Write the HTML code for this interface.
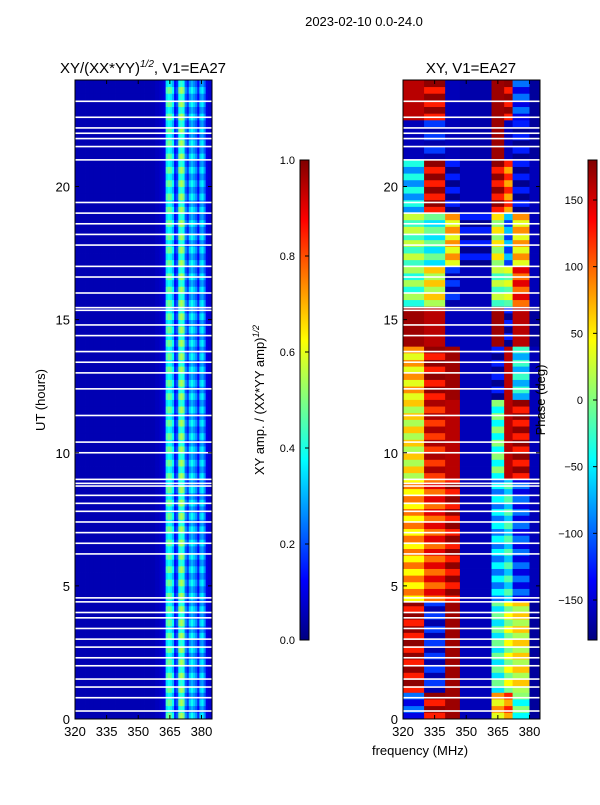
<!DOCTYPE html>
<html><head><meta charset="utf-8"><style>
body{margin:0;background:#fff;width:600px;height:800px;overflow:hidden}
svg{font-family:"Liberation Sans","DejaVu Sans",sans-serif}
</style></head><body>
<svg id="chart" width="600" height="800" xmlns="http://www.w3.org/2000/svg"></svg>
<script>
// ---- data ----
const freqTicks=[320,335,350,365,380];
const timeTicks=[0,5,10,15,20];
// amplitude per 1 MHz channel 320..384
const ampCols=[0.05,0.05,0.05,0.05,0.05,0.05,0.05,0.05,0.05,0.05,0.05,0.05,0.05,0.05,0.05,0.05,0.05,0.05,0.05,0.05,0.05,0.05,0.05,0.05,0.05,0.05,0.05,0.05,0.05,0.05,0.05,0.05,0.05,0.05,0.05,0.05,0.05,0.05,0.06,0.06,0.07,0.08,0.1,0.4,0.45,0.42,0.35,0.15,0.2,0.45,0.5,0.45,0.25,0.18,0.3,0.35,0.3,0.25,0.15,0.3,0.33,0.25,0.1,0.08,0.08];
const gapTimes=[0.3,0.8,1.2,1.5,2.0,2.3,2.7,3.0,3.4,3.8,4.0,4.4,4.55,6.2,6.6,7.0,7.4,7.8,8.1,8.4,8.75,8.85,9.0,10.0,10.4,11.4,12.4,13.0,13.4,13.8,14.4,14.8,15.35,15.45,16.0,16.6,17.0,17.8,18.2,18.6,19.0,19.4,21.0,21.5,21.8,22.0,22.2,22.6,23.2];
const phaseFreqEdges=[320,330,340,347,362,368,372,380,385];
const phaseTimeEdges=[0,1,4.4,9,12,14,15.5,17,19,21,22.5,24];
const phaseGrid=[
 [-120,150,170,-160,60,100,-20,-170],
 [150,-140,170,-160,-30,20,40,-170],
 [70,120,150,-160,-70,-40,-120,-160],
 [40,140,160,-160,-20,160,150,-160],
 [60,150,170,-160,-150,160,-50,-160],
 [170,160,-160,-160,170,-150,160,-170],
 [-10,40,-140,-160,0,10,120,-160],
 [0,-30,60,-150,30,-90,60,-160],
 [-60,150,-150,-160,150,100,-150,-160],
 [-160,-140,-160,-165,170,-160,-150,-170],
 [160,150,-160,-165,170,150,-120,-170]];
const ampTicks=[0.0,0.2,0.4,0.6,0.8,1.0];
const phaseTicks=[-150,-100,-50,0,50,100,150];
// ---- helpers ----
const NS="http://www.w3.org/2000/svg",svg=document.getElementById('chart');
function el(t,a,p){const e=document.createElementNS(NS,t);for(const k in a)e.setAttribute(k,a[k]);(p||svg).appendChild(e);return e;}
function jet(v){v=Math.max(0,Math.min(1,v));const c=x=>Math.round(255*Math.max(0,Math.min(1,1.5-Math.abs(4*v-x))));return `rgb(${c(3)},${c(2)},${c(1)})`;}
const X0=[75,403],W=137,YT=80,YB=719;
const fx=(i,f)=>X0[i]+(f-320)/65*W;
const ty=t=>YB-t*(YB-YT)/24;
function txt(x,y,s,o){const t=el('text',Object.assign({x,y,'font-size':13,fill:'#000'},o||{}));t.textContent=s;return t;}
// ---- amplitude heatmap ----
const g1=el('g',{});


const rowH=0.25;
for(let r=0;r<96;r++){const t=r*rowH;const mod=(r%2?0.85:1.1);
 for(let c=0;c<ampCols.length;c++){const rc=el('rect',{x:fx(0,320+c),y:ty(t+rowH),width:W/65+0.4,height:(YB-YT)/96+0.4,fill:jet(Math.min(1,ampCols[c]*(ampCols[c]>0.1?mod:1)))},g1);
  }}
// ---- phase heatmap ----
const g2=el('g',{});


for(let i=0;i<phaseTimeEdges.length-1;i++)for(let j=0;j<phaseFreqEdges.length-1;j++){
 const t0=phaseTimeEdges[i],t1=phaseTimeEdges[i+1];
 for(let t=t0;t<t1-1e-6;t+=rowH){const alt=(Math.round(t/rowH)%2)?25:-25;const base=phaseGrid[i][j];const v=Math.abs(base)>=160?base:base+alt;
  const rc=el('rect',{x:fx(1,phaseFreqEdges[j]),y:ty(Math.min(t+rowH,t1)),width:fx(1,phaseFreqEdges[j+1])-fx(1,phaseFreqEdges[j])+0.4,height:ty(t)-ty(Math.min(t+rowH,t1))+0.4,fill:jet((v+180)/360)},g2);
  }}
// ---- gaps ----
for(let i=0;i<2;i++)for(const t of gapTimes){const l=el('rect',{x:X0[i],y:ty(t)-0.8,width:W,height:1.6,fill:'#fff'});
 }
// ---- axes ----
for(let i=0;i<2;i++){
 const f=el('rect',{x:X0[i],y:YT,width:W,height:YB-YT,fill:'none',stroke:'#000','stroke-width':1});
 
 for(const v of freqTicks){const x=fx(i,v);el('line',{x1:x,x2:x,y1:YB,y2:YB-4,stroke:'#000'});el('line',{x1:x,x2:x,y1:YT,y2:YT+4,stroke:'#000'});
  const t=txt(x,736,String(v),{'text-anchor':'middle'});}
 for(const v of timeTicks){const y=ty(v);el('line',{x1:X0[i],x2:X0[i]+4,y1:y,y2:y,stroke:'#000'});el('line',{x1:X0[i]+W,x2:X0[i]+W-4,y1:y,y2:y,stroke:'#000'});
  const t=txt(X0[i]-5,y+5,String(v),{'text-anchor':'end'});}
}
// ---- colorbars ----
const CB=[300,588],CT=160,CBt=640;
const defs=el('defs',{});const lg=el('linearGradient',{id:'jetg',x1:0,y1:1,x2:0,y2:0},defs);
for(let k=0;k<=16;k++)el('stop',{offset:k/16,'stop-color':jet(k/16)},lg);
for(let i=0;i<2;i++){const r=el('rect',{x:CB[i],y:CT,width:9,height:CBt-CT,fill:'url(#jetg)',stroke:'#000','stroke-width':1});
 }
for(const v of ampTicks){const y=CBt-v*(CBt-CT);el('line',{x1:CB[0]+9,x2:CB[0]+5,y1:y,y2:y,stroke:'#000'});
 const t=txt(CB[0]-5,y+4,v.toFixed(1),{'text-anchor':'end','font-size':11});}
for(const v of phaseTicks){const y=CBt-(v+180)/360*(CBt-CT);el('line',{x1:CB[1]+9,x2:CB[1]+5,y1:y,y2:y,stroke:'#000'});
 const t=txt(CB[1]-5,y+4,(v<0?'\u2212'+(-v):String(v)),{'text-anchor':'end','font-size':11});}
// ---- labels ----
let t;
t=txt(364,26,'2023-02-10 0.0-24.0',{'text-anchor':'middle'});
t=el('text',{x:143,y:73,'text-anchor':'middle','font-size':15});t.innerHTML='XY/(XX*YY)<tspan dy="-6" font-size="10" font-style="italic">1/2</tspan><tspan dy="6">, V1=EA27</tspan>';
t=txt(471,73,'XY, V1=EA27',{'text-anchor':'middle','font-size':15});
t=txt(0,0,'UT (hours)',{'text-anchor':'middle',transform:'translate(45,400) rotate(-90)'});
t=el('text',{'text-anchor':'middle','font-size':13,transform:'translate(264,400) rotate(-90)'});t.innerHTML='XY amp. / (XX*YY amp)<tspan dy="-5" font-size="9" font-style="italic">1/2</tspan>';
t=txt(0,0,'Phase (deg)',{'text-anchor':'middle',transform:'translate(545,400) rotate(-90)'});
t=txt(420,755,'frequency (MHz)',{'text-anchor':'middle'});
</script>
</body></html>
